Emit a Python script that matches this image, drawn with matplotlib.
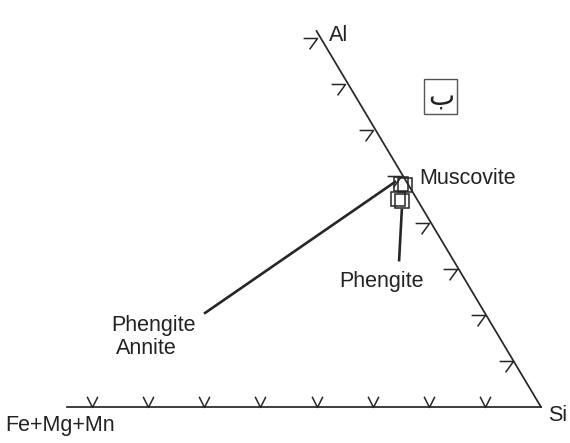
import matplotlib
matplotlib.use("Agg")
import matplotlib.pyplot as plt
import numpy as np
from matplotlib.path import Path

# ternary data: fractions of Al and Si (rest is Fe+Mg+Mn)
mica_al = [0.604, 0.602, 0.564, 0.558]
mica_si = [0.386, 0.396, 0.400, 0.411]

# tick positions along the two drawn edges (fraction of the edge)
edge_ticks = [1/8, 2/8, 3/8, 4/8, 5/8, 6/8, 7/8, 1.0]


def tern(si, al):
    si = np.asarray(si, float)
    al = np.asarray(al, float)
    return si + al / 2, al


plt.rcParams['font.family'] = ['Liberation Sans', 'DejaVu Sans']
ink = '#262626'

fig = plt.figure(figsize=(5.70, 4.43), dpi=100)
ax = fig.add_axes([0, 0, 1, 1])
ax.set_xlim(-92 / 449, 478 / 449)
ax.set_ylim(-36 / 369, 407 / 369)
ax.axis('off')

# bottom edge (Fe+Mg+Mn -> Si), runs a bit past the left corner
ax.plot([-0.056, 1.0], [0, 0], color=ink, lw=1.25)
# right edge (Si -> Al), runs a bit past the apex
tx, ty = tern([1.0, -0.0095], [0.0, 1.019])
ax.plot(tx, ty, color=ink, lw=1.25)

# tick marks
arrow = Path([(-14, 0), (0, 0), (-8, -11)])
vee = Path([(-5.5, 11), (0, 0), (5.5, 11)])

t = np.array(edge_ticks)
x, y = tern(1 - t, t)
ax.plot(x, y, ls='none', marker=arrow, ms=20, mfc='none', mec=ink, mew=1.1)
x, y = tern(1 - t, np.zeros_like(t))
ax.plot(x, y, ls='none', marker=vee, ms=15.5, mfc='none', mec=ink, mew=1.1)

# mica analyses
mx, my = tern(mica_si, mica_al)
ax.plot(mx, my, ls='none', marker='s', ms=10.5, mfc='none', mec=ink, mew=1.1)

# leader lines
ax.plot([0.252, 0.675], [0.255, 0.610], color=ink, lw=1.9)
ax.plot([0.690, 0.684], [0.534, 0.398], color=ink, lw=1.9)

fs = 15.5
ax.text(0.528, 1.008, 'Al', fontsize=fs, color='#222', ha='left', va='center')
ax.text(0.728, 0.619, 'Muscovite', fontsize=fs, color='#222', ha='left', va='center')
ax.text(0.644, 0.339, 'Phengite', fontsize=fs, color='#222', ha='center', va='center')
ax.text(0.136, 0.222, 'Phengite', fontsize=fs, color='#222', ha='center', va='center')
ax.text(0.120, 0.159, 'Annite', fontsize=fs, color='#222', ha='center', va='center')
ax.text(1.016, -0.022, 'Si', fontsize=fs, color='#222', ha='left', va='center')
ax.text(-0.194, -0.049, 'Fe+Mg+Mn', fontsize=fs, color='#222', ha='left', va='center')

ax.text(0.777, 0.841, 'ب', fontsize=20, color='#222', ha='center', va='center',
        family=['DejaVu Sans'],
        bbox=dict(boxstyle='square,pad=0.12', fc='none', ec='#555', lw=1.0))

fig.savefig('out.png', dpi=100)
